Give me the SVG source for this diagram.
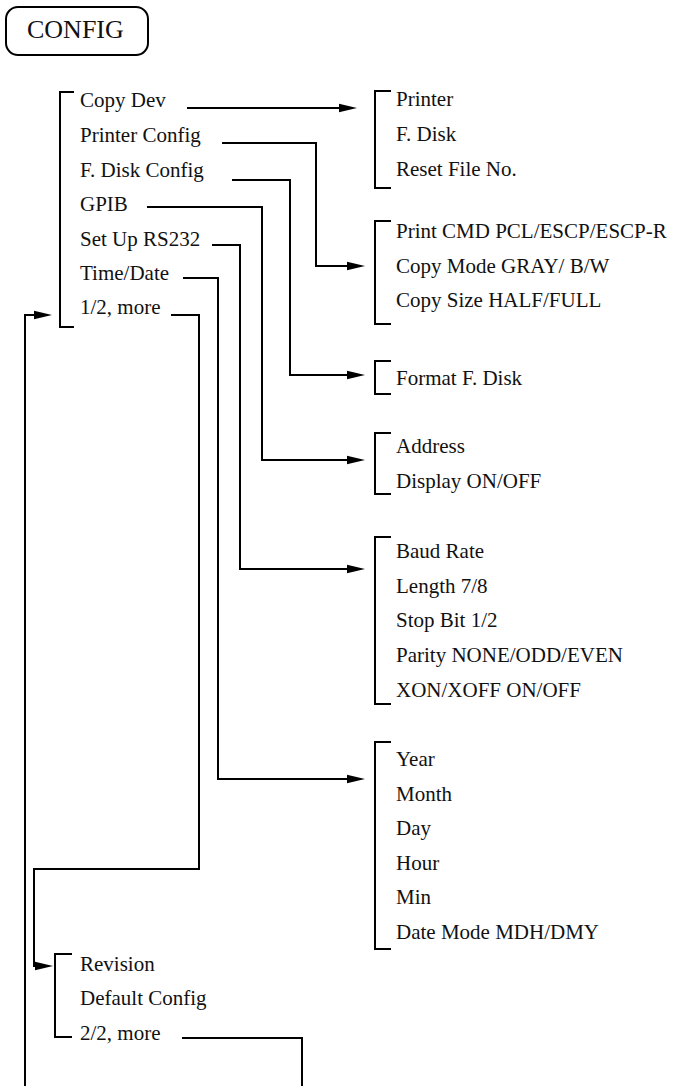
<svg xmlns="http://www.w3.org/2000/svg" width="676" height="1086" viewBox="0 0 676 1086" font-family="'Liberation Serif', 'Times New Roman', 'DejaVu Serif', serif">
<style>
text{font-family:'Liberation Serif','Times New Roman','DejaVu Serif',serif;font-size:21px;fill:#111}
.ln{fill:none;stroke:#000;stroke-width:2}
</style>
<defs>
<marker id="ah" viewBox="0 0 18 10" refX="8" refY="5" markerWidth="18" markerHeight="10" markerUnits="userSpaceOnUse" orient="auto">
<path d="M0,0.8 L18,5 L0,9.2 z" fill="#000"/>
</marker>
</defs>
<rect width="676" height="1086" fill="#fff"/>
<g id="config">
<rect x="6" y="7" width="142" height="48" rx="12" class="ln"/>
<text x="27" y="38" style="font-size:26px">CONFIG</text>
</g>
<g id="menu1">
<path class="ln" d="M74,92 H60 V327 H74"/>
<text x="80" y="107">Copy Dev</text>
<text x="80" y="142">Printer Config</text>
<text x="80" y="177">F. Disk Config</text>
<text x="80" y="211">GPIB</text>
<text x="80" y="246">Set Up RS232</text>
<text x="80" y="280">Time/Date</text>
<text x="80" y="314">1/2, more</text>
</g>
<g id="copydev">
<path class="ln" d="M391,91 H375 V188 H391"/>
<text x="396" y="106">Printer</text>
<text x="396" y="141">F. Disk</text>
<text x="396" y="176">Reset File No.</text>
</g>
<g id="printerconfig">
<path class="ln" d="M391,221 H375 V324 H391"/>
<text x="396" y="238">Print CMD PCL/ESCP/ESCP-R</text>
<text x="396" y="273">Copy Mode GRAY/ B/W</text>
<text x="396" y="307">Copy Size HALF/FULL</text>
</g>
<g id="fdiskconfig">
<path class="ln" d="M391,361 H375 V394 H391"/>
<text x="396" y="385">Format F. Disk</text>
</g>
<g id="gpib">
<path class="ln" d="M391,433 H375 V494 H391"/>
<text x="396" y="453">Address</text>
<text x="396" y="488">Display ON/OFF</text>
</g>
<g id="rs232">
<path class="ln" d="M391,537 H375 V704 H391"/>
<text x="396" y="558">Baud Rate</text>
<text x="396" y="593">Length 7/8</text>
<text x="396" y="627">Stop Bit 1/2</text>
<text x="396" y="662">Parity NONE/ODD/EVEN</text>
<text x="396" y="697">XON/XOFF ON/OFF</text>
</g>
<g id="timedate">
<path class="ln" d="M391,742 H375 V949 H391"/>
<text x="396" y="766">Year</text>
<text x="396" y="801">Month</text>
<text x="396" y="835">Day</text>
<text x="396" y="870">Hour</text>
<text x="396" y="904">Min</text>
<text x="396" y="939">Date Mode MDH/DMY</text>
</g>
<g id="menu2">
<path class="ln" d="M72,954 H55 V1037 H72"/>
<text x="80" y="971">Revision</text>
<text x="80" y="1005">Default Config</text>
<text x="80" y="1040">2/2, more</text>
</g>
<g id="connectors">
<path class="ln" marker-end="url(#ah)" d="M187,108 H347"/>
<path class="ln" marker-end="url(#ah)" d="M222,143 H316 V266 H355"/>
<path class="ln" marker-end="url(#ah)" d="M232,180 H290 V375 H355"/>
<path class="ln" marker-end="url(#ah)" d="M147,207 H262 V460 H355"/>
<path class="ln" marker-end="url(#ah)" d="M212,245 H240 V569 H355"/>
<path class="ln" marker-end="url(#ah)" d="M183,278 H218 V779 H355"/>
<path class="ln" marker-end="url(#ah)" d="M171,315 H199 V869 H34 V966 H43"/>
<path class="ln" d="M182,1038 H302 V1087"/>
<path class="ln" marker-end="url(#ah)" d="M25,1087 V315 H42"/>
</g>
</svg>
